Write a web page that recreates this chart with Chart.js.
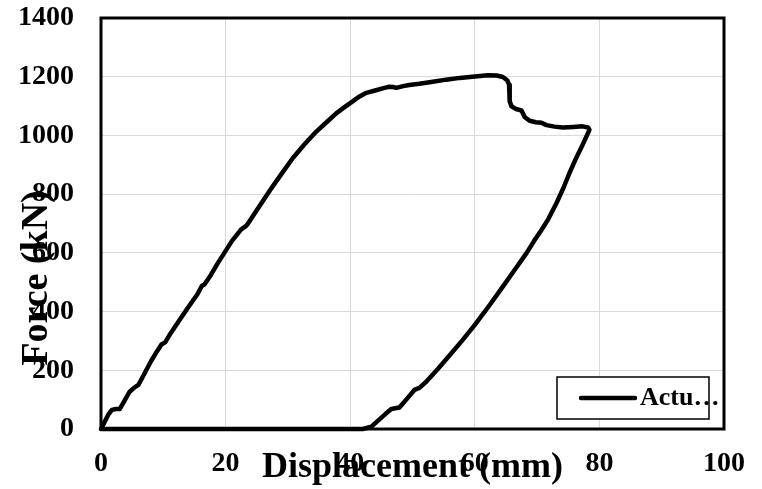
<!DOCTYPE html>
<html>
<head>
<meta charset="utf-8">
<script src="https://cdn.jsdelivr.net/npm/chart.js@4"></script>
<style>
  html, body { margin: 0; padding: 0; background: #fff; }
  canvas { display: block; }
</style>
</head>
<body>
<canvas id="chartForce" width="762" height="489"></canvas>
<script>
// data: displacement (mm) vs force (kN)
const displacement = [0, 0.6, 1.2, 1.75, 2.4, 3.0, 3.6, 4.6, 5.4, 6.0, 7.0, 8.0, 9.0, 9.7, 10.3, 11, 12.5, 14, 15.5, 16.2, 16.6, 17.5, 18.6, 19.8, 21, 22.5, 23.3, 23.6, 25, 27.1, 29, 30.8, 32.6, 34.6, 36.2, 37.8, 39.2, 40.4, 41.5, 42.6, 44, 45.5, 46.3, 46.9, 47.4, 48.5, 49.5, 51.1, 53, 55.4, 57.6, 60, 62.1, 63.5, 64.5, 65.2, 65.5, 65.6, 65.6, 65.9, 66.6, 67.5, 68.0, 68.8, 69.8, 70.7, 71.5, 72.8, 74.1, 75.8, 77.3, 78.2, 78.4, 78.0, 77.3, 76.2, 75.2, 74.2, 73.1, 71.8, 70.7, 69.5, 68.3, 66.5, 64.5, 62.3, 60.0, 58, 56.0, 54.1, 52.2, 51.1, 50.3, 49.2, 47.9, 46.6, 45.6, 44.7, 43.4, 42.0, 30, 15, 0];
const force = [0, 25, 50, 65, 68, 68, 90, 127, 142, 150, 190, 230, 265, 288, 295, 320, 368, 415, 460, 488, 492, 520, 560, 600, 640, 680, 692, 700, 745, 812, 870, 923, 968, 1014, 1045, 1076, 1098, 1116, 1133, 1145, 1153, 1162, 1166, 1165, 1162, 1168, 1172, 1176, 1182, 1190, 1196, 1201, 1205, 1204, 1199, 1188, 1173, 1140, 1116, 1099, 1090, 1085, 1063, 1050, 1045, 1043, 1035, 1030, 1027, 1029, 1031, 1027, 1019, 1000, 968, 920, 872, 820, 769, 715, 678, 640, 599, 545, 485, 420, 355, 302, 252, 205, 161, 140, 133, 105, 73, 68, 50, 33, 8, 0, 0, 0, 0];

const xTitle = 'Displacement (mm)';
const yTitle = 'Force (kN)';
const seriesLabel = 'Actu…';
const xRange = [0, 100], xStep = 20;
const yRange = [0, 1400], yStep = 200;

const serif = '"Liberation Serif", "Times New Roman", serif';

const points = displacement.map((d, i) => ({ x: d, y: force[i] }));

// frame round the plot area
const frame = {
  id: 'frame',
  beforeDatasetsDraw(chart) {
    const { ctx, chartArea: a } = chart;
    ctx.save();
    ctx.strokeStyle = '#000';
    ctx.lineWidth = 3;
    ctx.strokeRect(a.left, a.top, a.right - a.left, a.bottom - a.top);
    ctx.restore();
  }
};

// axis titles, placed where the original has them
const titles = {
  id: 'titles',
  afterDraw(chart) {
    const { ctx, chartArea: a } = chart;
    ctx.save();
    ctx.fillStyle = '#000';
    ctx.font = 'bold 36px ' + serif;
    ctx.textAlign = 'center';
    ctx.textBaseline = 'alphabetic';
    ctx.fillText(xTitle, (a.left + a.right) / 2, 477);
    ctx.translate(47, 278);
    ctx.rotate(-Math.PI / 2);
    ctx.font = 'bold 38px ' + serif;
    ctx.fillText(yTitle, 0, 0);
    ctx.restore();
  }
};

// legend box inside the plot, bottom right
const boxLegend = {
  id: 'boxLegend',
  afterDraw(chart) {
    const { ctx, chartArea: a } = chart;
    const ds = chart.data.datasets[0];
    const x = a.right - 167, y = a.bottom - 52, w = 152, h = 42;
    ctx.save();
    ctx.fillStyle = '#fff';
    ctx.fillRect(x, y, w, h);
    ctx.strokeStyle = '#000';
    ctx.lineWidth = 1.5;
    ctx.strokeRect(x, y, w, h);
    ctx.strokeStyle = ds.borderColor;
    ctx.lineWidth = ds.borderWidth;
    ctx.lineCap = 'round';
    ctx.beginPath();
    ctx.moveTo(x + 24, y + 21);
    ctx.lineTo(x + 78, y + 21);
    ctx.stroke();
    ctx.fillStyle = '#000';
    ctx.font = 'bold 26px ' + serif;
    ctx.textBaseline = 'alphabetic';
    ctx.fillText(ds.label, x + 83, y + 28);
    ctx.restore();
  }
};

const tickFont = { family: serif, size: 28, weight: 'bold' };

new Chart(document.getElementById('chartForce'), {
  type: 'scatter',
  data: {
    datasets: [{
      label: seriesLabel,
      data: points,
      showLine: true,
      borderColor: '#000',
      borderWidth: 4.5,
      pointRadius: 0,
      tension: 0,
      borderJoinStyle: 'round',
      borderCapStyle: 'round',
      clip: false
    }]
  },
  options: {
    responsive: false,
    devicePixelRatio: 1,
    animation: false,
    layout: { padding: { left: 0, right: 38, top: 18, bottom: 0 } },
    plugins: { legend: { display: false }, tooltip: { enabled: false } },
    scales: {
      x: {
        type: 'linear', min: xRange[0], max: xRange[1],
        afterFit: s => { s.height = 60; s.paddingLeft = 0; s.paddingRight = 0; },
        ticks: { stepSize: xStep, padding: 18, color: '#000', font: tickFont, callback: v => String(v) },
        grid: { color: '#d9d9d9', lineWidth: 1, drawTicks: false },
        border: { display: false },
        title: { display: false }
      },
      y: {
        type: 'linear', min: yRange[0], max: yRange[1],
        afterFit: s => { s.width = 101; s.paddingTop = 0; s.paddingBottom = 0; },
        ticks: { stepSize: yStep, padding: 27, color: '#000', font: tickFont, callback: v => String(v) },
        grid: { color: '#d9d9d9', lineWidth: 1, drawTicks: false },
        border: { display: false },
        title: { display: false }
      }
    }
  },
  plugins: [frame, titles, boxLegend]
});
</script>
</body>
</html>
